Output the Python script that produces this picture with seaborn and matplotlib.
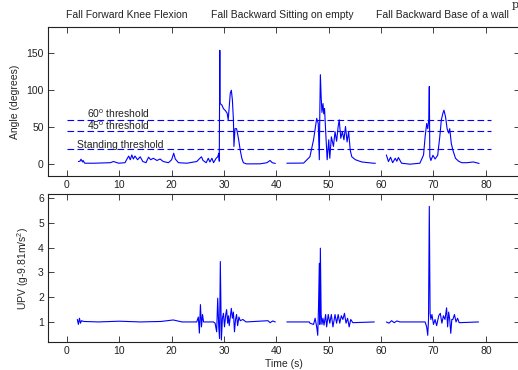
import pandas as pd
import numpy as np
import matplotlib
matplotlib.use('Agg')
import matplotlib.pyplot as plt
import seaborn as sns

# Angulo (grados) por tramo de tiempo
seg1_t = [2.2, 2.5, 2.7, 3.0, 3.1, 3.4, 5.1, 8.3, 8.9, 9.9, 11.1, 11.4, 11.8, 12.1, 12.4, 12.7,
          13.0, 13.5, 14.0, 14.5, 15.1, 15.6, 16.0, 16.5, 17.2, 17.8, 18.4, 19.4, 20.0, 20.4,
          20.7, 21.3, 22.9, 24.8, 25.4, 25.7, 26.0, 26.6, 27.0, 27.3, 27.7, 28.0, 28.5, 28.8,
          29.0, 29.1, 29.2, 29.25, 29.6, 29.9, 30.2, 30.6, 30.8, 30.95, 31.2, 31.4, 31.6, 31.8,
          31.9, 32.1, 32.4, 32.6, 32.8, 33.1, 33.4, 33.7, 34.3, 36.9, 38.2, 38.8, 39.2, 39.8]
seg1_angle = [3.6, 4, 6.7, 3, 5, 1.3, 1.3, 2, 3.6, 1.3, 2, 6, 11, 6, 12.5, 7,
              11, 6, 10, 3.6, 2, 9.5, 6, 8, 5, 7, 3.6, 2, 6, 14.8,
              7, 2, 1.3, 3.6, 8, 10, 5, 2, 8, 3, 8, 2, 8, 10,
              14.8, 4, 154, 82, 80, 75, 73, 69, 60, 73, 96, 100, 87, 60,
              24, 48, 48, 41, 33, 19, 8, 2, 0.4, 0.5, 2, 5, 2, 1]

seg2_t = [42.0, 45.2, 46.4, 47.1, 47.7, 48.0, 48.2, 48.3, 48.4, 48.55, 48.7, 48.9, 49.05,
          49.2, 49.4, 49.7, 50.0, 50.2, 50.5, 50.9, 51.2, 51.5, 51.8, 52.0, 52.3, 52.6, 52.9,
          53.2, 53.5, 53.8, 54.1, 54.4, 55.1, 56.3, 58.5, 58.9]
seg2_angle = [1.3, 1.5, 10, 33, 62, 55, 6, 73, 121, 91, 70, 82, 68,
              75, 46, 6, 33, 8, 37, 24, 44, 31, 51, 60, 35, 44, 33,
              51, 30, 44, 19, 10, 6, 3, 1.3, 1.3]

seg3_t = [61.0, 61.4, 61.8, 62.2, 62.7, 63.0, 63.3, 63.9, 65.5, 67.4, 68.1, 68.4, 68.7, 68.9,
          69.1, 69.2, 69.3, 69.5, 69.9, 70.3, 70.8, 71.2, 71.5, 71.8, 72.0, 72.3, 72.6, 72.9,
          73.1, 73.4, 73.7, 74.2, 74.8, 75.4, 76.4, 77.6, 78.7]
seg3_angle = [12.5, 3.5, 9.4, 2, 8, 4, 9, 1.3, 0, 1.3, 12.5, 37, 55, 48,
              60, 105, 10, 5, 12, 7, 12, 37, 60, 69, 73, 64, 48, 42,
              48, 28, 19, 8, 4, 2, 2, 3, 1]

# UPV (g) por tramo de tiempo
upv1_t = [2.0, 2.2, 2.4, 2.6, 2.8, 3.2, 6, 10, 14, 18, 20.3, 22, 24.8, 25.1, 25.3, 25.5, 25.7,
          25.9, 26.1, 28.0, 28.3, 28.6, 28.8, 29.0, 29.15, 29.3, 29.5, 29.7, 29.9, 30.1, 30.3,
          30.5, 30.7, 30.85, 31.0, 31.4, 31.6, 31.8, 32.0, 32.2, 32.4, 32.6, 32.85, 33.1, 33.6,
          34.2, 38.4, 38.8, 39.3, 39.8]
upv1 = [1.1, 0.9, 1.15, 0.95, 1.05, 1.02, 1.0, 1.03, 1.0, 1.02, 1.08, 1.0, 1.0, 1.2, 0.55, 1.7, 0.8,
        1.3, 1.0, 1.0, 0.95, 0.6, 1.96, 0.8, 0.34, 3.44, 0.27, 1.15, 1.35, 0.8, 1.25,
        1.5, 0.95, 1.25, 0.85, 1.55, 1.15, 1.4, 0.6, 1.1, 1.3, 0.85, 1.2, 1.05, 1.1,
        1.0, 1.05, 0.97, 1.04, 1.0]

upv2_t = [42.0, 46.3, 46.4, 47.1, 47.4, 47.7, 47.9, 48.05, 48.2, 48.3, 48.4, 48.55, 48.7, 48.9,
          49.1, 49.4, 49.6, 49.9, 50.2, 50.5, 50.8, 51.2, 51.5, 51.8, 52.1, 52.4, 52.7, 53.0,
          53.3, 53.6, 53.9, 54.2, 54.6, 58.7]
upv2 = [1.0, 1.0, 0.95, 0.9, 1.15, 0.8, 0.46, 1.62, 3.37, 0.9, 3.98, 1.3, 0.9, 1.15,
        0.87, 1.3, 0.8, 1.3, 0.95, 1.3, 0.8, 1.3, 0.95, 1.3, 0.95, 1.25, 1.1, 1.35,
        0.95, 1.15, 0.8, 1.1, 0.97, 1.0]

upv3_t = [61.0, 61.5, 62.0, 62.5, 63.0, 63.6, 68.4, 68.7, 68.9, 69.05, 69.2, 69.35, 69.5, 69.7,
          70.0, 70.3, 70.6, 71.0, 71.3, 71.6, 71.9, 72.2, 72.5, 72.7, 72.9, 73.1, 73.3, 73.5,
          73.7, 74.0, 74.3, 74.6, 74.9, 78.6]
upv3 = [1.0, 0.95, 1.05, 0.97, 1.04, 1.0, 1.0, 0.8, 0.46, 1.1, 5.67, 1.35, 1.1, 1.3,
        0.9, 1.1, 0.85, 1.25, 1.35, 0.95, 1.25, 1.1, 1.57, 0.8, 1.4, 1.1, 0.54, 1.1,
        1.1, 1.3, 1.0, 1.15, 0.97, 1.0]

thresholds = [60, 45, 20]
threshold_labels = ['60$^\\mathrm{o}$ threshold', '45$^\\mathrm{o}$ threshold', 'Standing threshold']
titles = ['Fall Forward Knee Flexion', 'Fall Backward Sitting on empty', 'Fall Backward Base of a wall']
x_ticks = [0, 10, 20, 30, 40, 50, 60, 70, 80]
angle_ticks = [0, 50, 100, 150]
upv_ticks = [1, 2, 3, 4, 5, 6]


def build_df(pairs, col):
    frames = []
    for i, (t, v) in enumerate(pairs):
        frames.append(pd.DataFrame({'t': t, col: v, 'segment': i}))
    return pd.concat(frames, ignore_index=True)


def style_axes(ax):
    ax.tick_params(direction='in', top=True, right=True, length=4, width=0.6,
                   labelsize=7.5, colors='#222222', pad=3)
    for s in ax.spines.values():
        s.set_linewidth(0.8)
        s.set_color('#222222')
    ax.set_xlabel('')
    ax.set_ylabel('')


def main():
    sns.set_style('ticks')
    plt.rcParams['font.family'] = ['Liberation Sans', 'DejaVu Sans']
    plt.rcParams['mathtext.fontset'] = 'custom'
    plt.rcParams['mathtext.rm'] = 'Liberation Sans'

    df_angle = build_df([(seg1_t, seg1_angle), (seg2_t, seg2_angle), (seg3_t, seg3_angle)], 'angle')
    df_upv = build_df([(upv1_t, upv1), (upv2_t, upv2), (upv3_t, upv3)], 'upv')

    fig = plt.figure(figsize=(5.18, 3.70), dpi=100)
    ax1 = fig.add_axes([0.0927, 0.5243, 0.912, 0.4027])
    ax2 = fig.add_axes([0.0927, 0.0757, 0.912, 0.4000])

    # Angulo
    sns.lineplot(data=df_angle, x='t', y='angle', units='segment', estimator=None,
                 color='#0000ff', linewidth=0.8, ax=ax1)
    for th in thresholds:
        ax1.plot([0, 81], [th, th], color='#0000ff', linestyle=(0, (6, 3)), linewidth=0.8)
    ax1.text(3.9, 62, threshold_labels[0], fontsize=7.5, color='#222222')
    ax1.text(3.9, 46.5, threshold_labels[1], fontsize=7.5, color='#222222')
    ax1.text(2.0, 22, threshold_labels[2], fontsize=7.5, color='#222222')
    ax1.set_xlim(-3.6, 86.6)
    ax1.set_ylim(-16, 185.5)
    ax1.set_xticks(x_ticks)
    ax1.set_yticks(angle_ticks)
    style_axes(ax1)
    ax1.set_ylabel('Angle (degrees)', fontsize=7.5, labelpad=5)

    # UPV
    sns.lineplot(data=df_upv, x='t', y='upv', units='segment', estimator=None,
                 color='#0000ff', linewidth=0.8, ax=ax2)
    ax2.set_xlim(-3.6, 86.6)
    ax2.set_ylim(0.19, 6.17)
    ax2.set_xticks(x_ticks)
    ax2.set_yticks(upv_ticks)
    style_axes(ax2)
    ax2.set_ylabel('UPV (g-9.81m/s$^2$)', fontsize=7.5, labelpad=5)
    ax2.set_xlabel('Time (s)', fontsize=7.5, labelpad=2)

    # Titulos de cada caida
    for x, title in zip([127, 282, 442], titles):
        fig.text(x / 518, 1 - 15 / 370, title, fontsize=7.5, ha='center', va='center', color='#222222')
    fig.text(0.988, 0.999, 'p', fontsize=8, family='serif', va='top', ha='left')

    fig.savefig('out.png', dpi=100)


if __name__ == "__main__":
    main()
